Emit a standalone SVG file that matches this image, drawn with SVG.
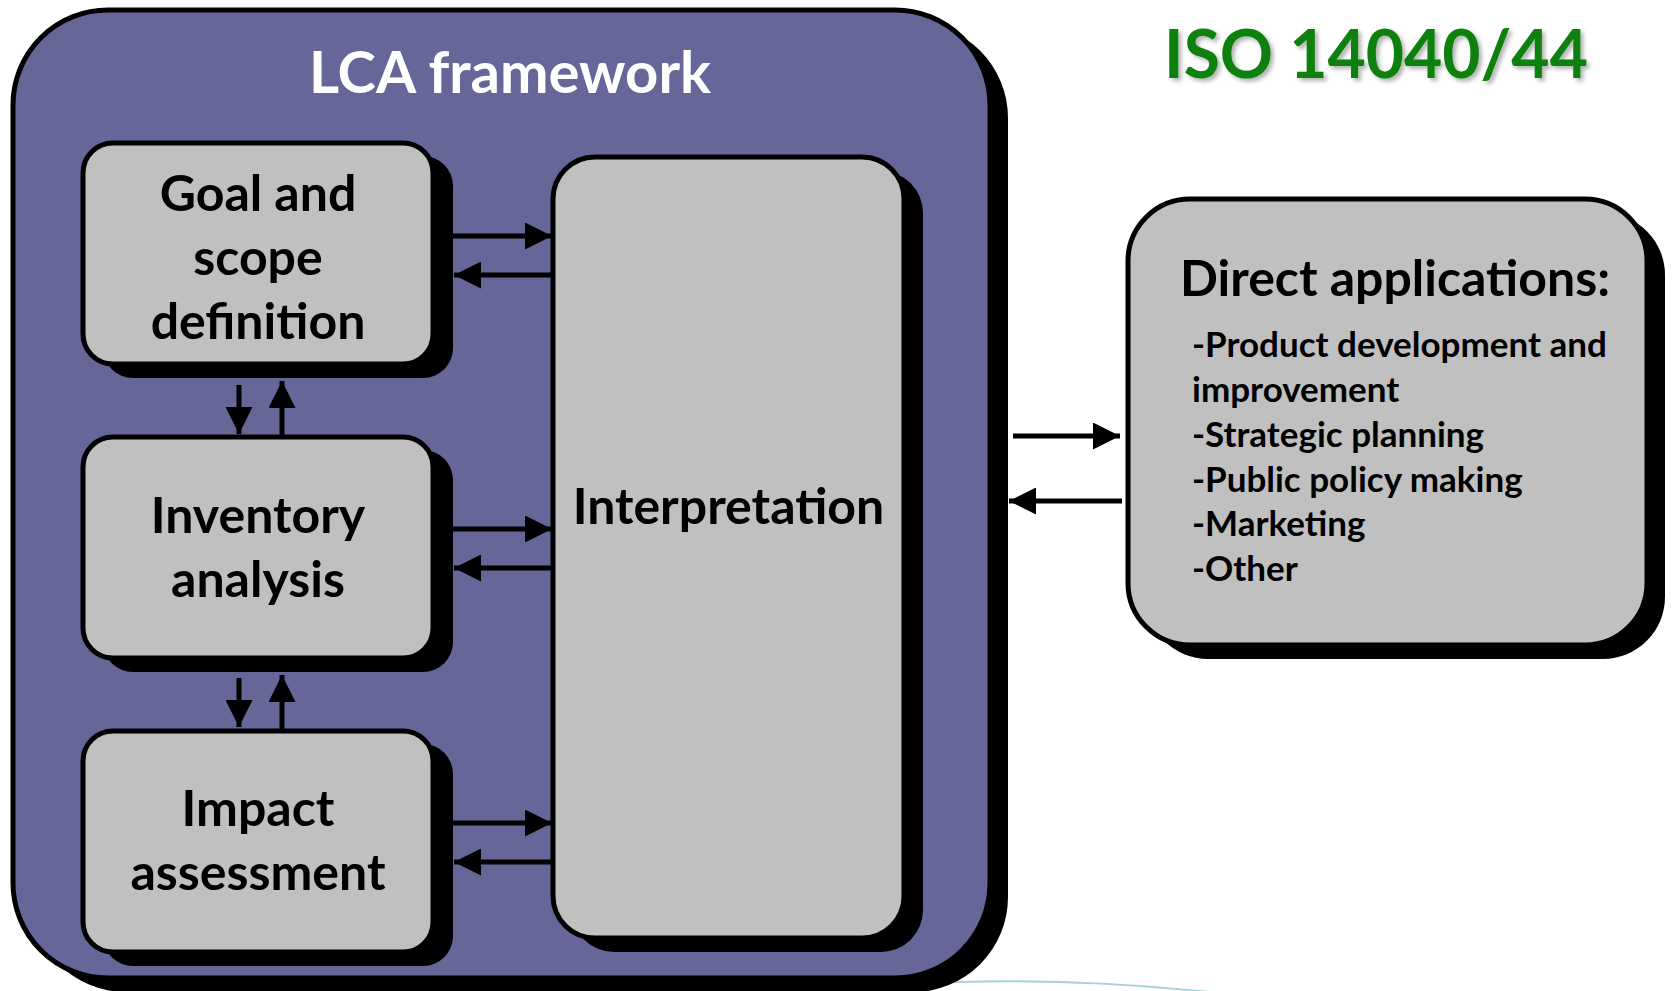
<svg xmlns="http://www.w3.org/2000/svg" width="1672" height="991" viewBox="0 0 1672 991">
<defs>
<style>
.shadow{fill:#000;}
.box{fill:#c0c0c0;stroke:#000;stroke-width:5;}
.frame{fill:#666699;stroke:#000;stroke-width:5;}
.lbl{font-family:Lato,"Open Sans",sans-serif;font-weight:bold;fill:#000;text-anchor:middle;font-size:50px;}
.item{font-family:Lato,"Open Sans",sans-serif;font-weight:bold;fill:#000;font-size:35px;}
.conn{stroke:#000;stroke-width:5;fill:none;}
</style>
<marker id="ah" viewBox="0 0 10 10" refX="10" refY="5" markerWidth="5.6" markerHeight="5.4" markerUnits="strokeWidth" orient="auto">
<path d="M0,0 L10,5 L0,10 Z" fill="#000"/>
</marker>
<filter id="glow" x="-10%" y="-20%" width="120%" height="150%">
<feDropShadow dx="3" dy="3" stdDeviation="2" flood-color="#000" flood-opacity="0.3"/>
</filter>
</defs>
<rect width="1672" height="991" fill="#fff"/>
<path d="M915,984 Q1050,976 1210,992" fill="none" stroke="#a9d3da" stroke-width="2"/>
<g id="lca-framework">
<rect class="shadow" x="31" y="23" width="977" height="969" rx="95"/>
<rect class="frame" x="13" y="10" width="977" height="968" rx="95"/>
<text x="510" y="93" font-family="Lato,'Open Sans',sans-serif" font-weight="bold" font-size="58" fill="#fff" text-anchor="middle">LCA framework</text>
</g>
<g id="goal">
<rect class="shadow" x="103" y="156" width="350" height="222" rx="30"/>
<rect class="box" x="83" y="143" width="350" height="221" rx="30"/>
<text class="lbl" x="258" y="211">Goal and</text>
<text class="lbl" x="258" y="275">scope</text>
<text class="lbl" x="258" y="339">definition</text>
</g>
<g id="inventory">
<rect class="shadow" x="103" y="450" width="350" height="222" rx="30"/>
<rect class="box" x="83" y="437" width="350" height="221" rx="30"/>
<text class="lbl" x="258" y="533">Inventory</text>
<text class="lbl" x="258" y="597">analysis</text>
</g>
<g id="impact">
<rect class="shadow" x="103" y="744" width="350" height="222" rx="30"/>
<rect class="box" x="83" y="731" width="350" height="221" rx="30"/>
<text class="lbl" x="258" y="826">Impact</text>
<text class="lbl" x="258" y="890">assessment</text>
</g>
<g id="interpretation">
<rect class="shadow" x="572" y="171" width="351" height="781" rx="42"/>
<rect class="box" x="553" y="157" width="351" height="781" rx="42"/>
<text class="lbl" x="728.5" y="524">Interpretation</text>
</g>
<g id="direct-applications">
<rect class="shadow" x="1146" y="213" width="519" height="446" rx="62"/>
<rect class="box" x="1128" y="199" width="519" height="446" rx="62"/>
<text class="lbl" x="1395" y="296" font-size="49">Direct applications:</text>
<text class="item" x="1192" y="357">-Product development and</text>
<text class="item" x="1192" y="402">improvement</text>
<text class="item" x="1192" y="447">-Strategic planning</text>
<text class="item" x="1192" y="492">-Public policy making</text>
<text class="item" x="1192" y="536">-Marketing</text>
<text class="item" x="1192" y="581">-Other</text>
</g>
<g id="iso-title">
<text x="1376" y="78" font-family="Lato,'Open Sans',sans-serif" font-weight="bold" font-size="66" fill="#0a800a" text-anchor="middle" filter="url(#glow)">ISO 14040/44</text>
</g>
<g id="connectors">
<line class="conn" x1="453" y1="236" x2="552" y2="236" marker-end="url(#ah)"/>
<line class="conn" x1="553" y1="275" x2="454" y2="275" marker-end="url(#ah)"/>
<line class="conn" x1="453" y1="529" x2="552" y2="529" marker-end="url(#ah)"/>
<line class="conn" x1="553" y1="568" x2="454" y2="568" marker-end="url(#ah)"/>
<line class="conn" x1="453" y1="823" x2="552" y2="823" marker-end="url(#ah)"/>
<line class="conn" x1="553" y1="862" x2="454" y2="862" marker-end="url(#ah)"/>
<line class="conn" x1="239" y1="385" x2="239" y2="434" marker-end="url(#ah)"/>
<line class="conn" x1="282" y1="435" x2="282" y2="381" marker-end="url(#ah)"/>
<line class="conn" x1="239" y1="678" x2="239" y2="727" marker-end="url(#ah)"/>
<line class="conn" x1="282" y1="729" x2="282" y2="675" marker-end="url(#ah)"/>
<line class="conn" x1="1013" y1="436" x2="1120" y2="436" marker-end="url(#ah)"/>
<line class="conn" x1="1122" y1="501" x2="1009" y2="501" marker-end="url(#ah)"/>
</g>
</svg>
